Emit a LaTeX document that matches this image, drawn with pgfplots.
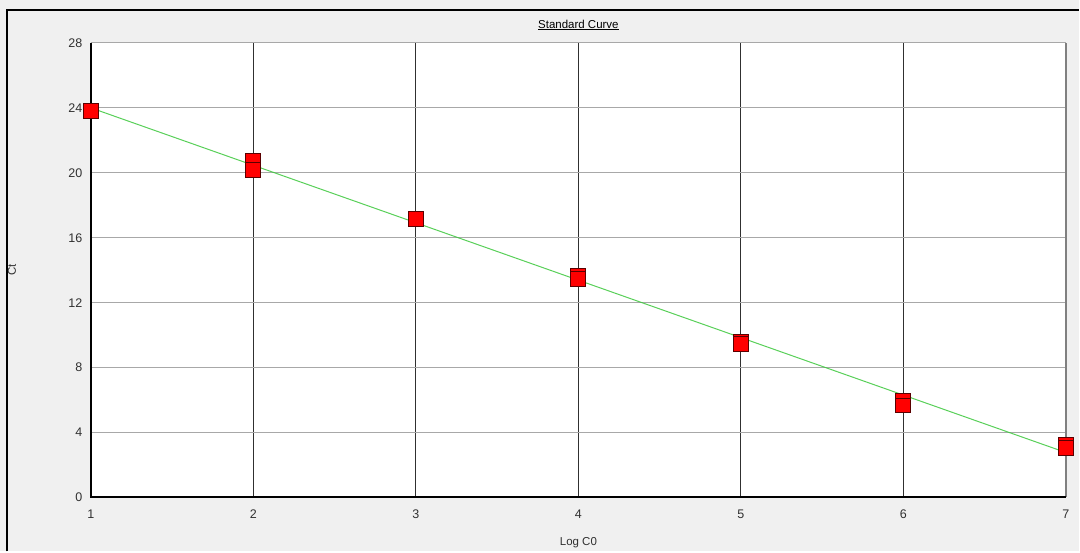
\documentclass[border=0pt]{standalone}
\usepackage{pgfplots}
\pgfplotsset{compat=1.18}
\usepackage{fontspec}
\setmainfont{Liberation Sans}
\definecolor{bggray}{HTML}{F0F0F0}
\definecolor{gridgray}{HTML}{A8A8A8}
\definecolor{vgrid}{HTML}{303030}
\definecolor{fitgreen}{HTML}{3CC83C}
\definecolor{mkborder}{HTML}{5A0000}
\definecolor{txt}{HTML}{303030}
\begin{document}
\begin{tikzpicture}[x=1pt,y=1pt]
\fill[bggray] (0,0) rectangle (1080,552);
\begin{axis}[
  at={(91pt,54pt)}, anchor=south west,
  scale only axis, width=976pt, height=455pt,
  xmin=1, xmax=7, ymin=0, ymax=28,
  xtick={1,2,3,4,5,6,7}, ytick={0,4,8,12,16,20,24,28},
  major tick length=0pt,
  axis background/.style={fill=white},
  axis line style={draw=none},
  xmajorgrids, ymajorgrids,
  x grid style={vgrid, line width=1pt},
  y grid style={gridgray, line width=1pt},
  ticklabel style={font=\fontsize{12.5}{14}\selectfont, text=txt},
  /pgf/number format/assume math mode=true,
  yticklabel style={xshift=-5pt},
  xticklabel style={yshift=-9pt},
  title={\underline{Standard Curve}},
  title style={at={(rel axis cs:0.5,1)}, anchor=center, yshift=12pt, font=\fontsize{11.5}{13}\selectfont, text=black},
  xlabel={Log C0},
  xlabel style={at={(rel axis cs:0.5,0)}, anchor=center, yshift=-45pt, font=\fontsize{11.5}{13}\selectfont, text=txt},
  ylabel={Ct},
  ylabel style={at={(rel axis cs:0,0.5)}, anchor=center, yshift=79pt, font=\fontsize{11.5}{13}\selectfont, text=txt},
  clip=false,
]
\addplot[only marks, mark=square*, mark size=7.5pt,
  mark options={fill=red, draw=mkborder, line width=0.9pt}]
  coordinates {
  (1,23.82)
  (2,20.71) (2,20.18)
  (3,17.15)
  (4,13.67) (4,13.45)
  (5,9.60) (5,9.45)
  (6,5.92) (6,5.67)
  (7,3.21) (7,3.06)
  };
\addplot[fitgreen, line width=1pt, opacity=0.85] coordinates {(1,24.0) (7,2.77)};
\draw[gridgray, line width=1pt] (rel axis cs:0,1) -- (rel axis cs:1,1);
\draw[gray, line width=1.8pt] (rel axis cs:1,0) -- (rel axis cs:1,1);
\draw[black, line width=2pt] (rel axis cs:0,1) -- (rel axis cs:0,0) -- (rel axis cs:1,0);
\end{axis}
\draw[black, line width=2.2pt] (7,0) -- (7,542) -- (1080,542);
\end{tikzpicture}
\end{document}
